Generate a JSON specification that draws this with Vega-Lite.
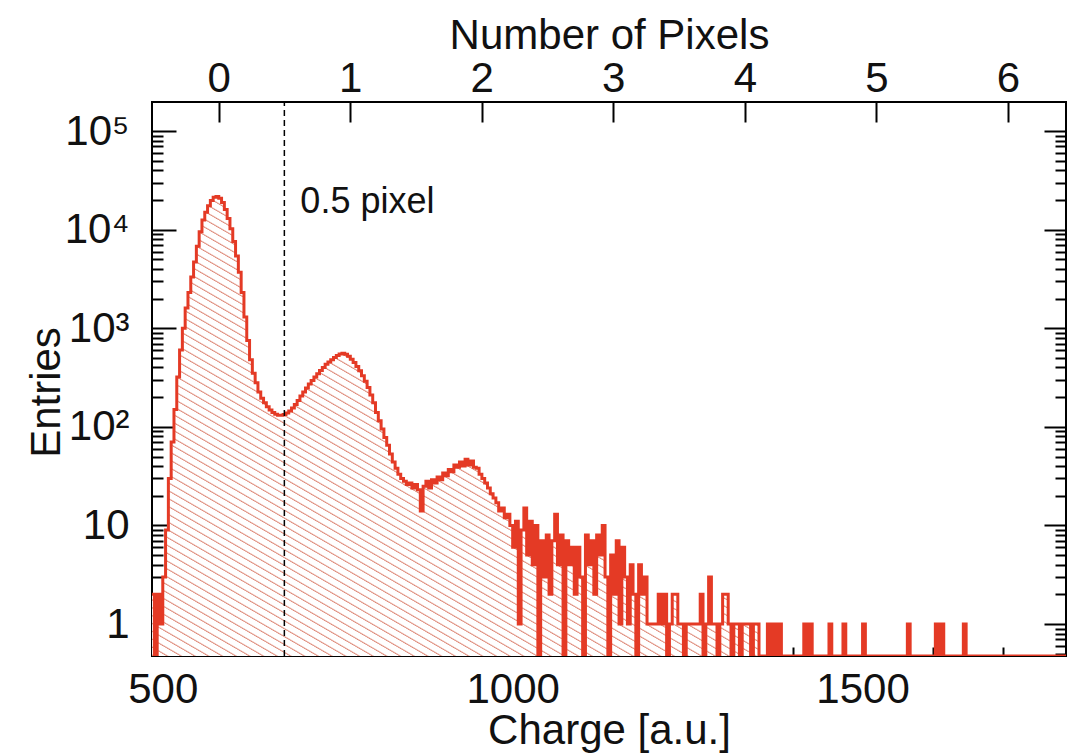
{
  "$schema": "https://vega.github.io/schema/vega-lite/v6.json",
  "width": 914,
  "height": 554,
  "autosize": {"type": "none"},
  "padding": {"left": 152, "top": 102, "right": 1, "bottom": 98},
  "background": "white",
  "config": {
    "view": {"stroke": "#000", "strokeWidth": 2},
    "font": "Liberation Sans",
    "axis": {
      "labelFont": "Liberation Sans", "titleFont": "Liberation Sans",
      "labelColor": "#111", "titleColor": "#111", "tickColor": "#000", "tickWidth": 2,
      "domain": false, "grid": false, "labelFontSize": 42, "titleFontSize": 42, "titleFontWeight": "normal"
    }
  },
  "datasets": {
    "hist": [
      {"c":484,"n":2},{"c":488,"n":0},{"c":492,"n":2},{"c":496,"n":1},{"c":500,"n":3},{"c":504,"n":9},{"c":508,"n":30},{"c":512,"n":70},
      {"c":516,"n":150},{"c":520,"n":320},{"c":524,"n":600},{"c":528,"n":1000},{"c":532,"n":1600},{"c":536,"n":2300},{"c":540,"n":3300},{"c":544,"n":4700},
      {"c":548,"n":6800},{"c":552,"n":9500},{"c":556,"n":12500},{"c":560,"n":15000},{"c":564,"n":17500},{"c":568,"n":19800},{"c":572,"n":21300},{"c":576,"n":21700},
      {"c":580,"n":20800},{"c":584,"n":18800},{"c":588,"n":16000},{"c":592,"n":13000},{"c":596,"n":10200},{"c":600,"n":7600},{"c":604,"n":5400},{"c":608,"n":3700},
      {"c":612,"n":2300},{"c":616,"n":1300},{"c":620,"n":750},{"c":624,"n":480},{"c":628,"n":350},{"c":632,"n":280},{"c":636,"n":225},{"c":640,"n":195},
      {"c":644,"n":175},{"c":648,"n":160},{"c":652,"n":148},{"c":656,"n":140},{"c":660,"n":134},{"c":664,"n":131},{"c":668,"n":131},{"c":672,"n":133},
      {"c":676,"n":138},{"c":680,"n":145},{"c":684,"n":155},{"c":688,"n":168},{"c":692,"n":185},{"c":696,"n":205},{"c":700,"n":225},{"c":704,"n":248},
      {"c":708,"n":272},{"c":712,"n":295},{"c":716,"n":320},{"c":720,"n":345},{"c":724,"n":372},{"c":728,"n":400},{"c":732,"n":430},{"c":736,"n":455},
      {"c":740,"n":480},{"c":744,"n":505},{"c":748,"n":530},{"c":752,"n":548},{"c":756,"n":557},{"c":760,"n":545},{"c":764,"n":520},{"c":768,"n":485},
      {"c":772,"n":450},{"c":776,"n":410},{"c":780,"n":370},{"c":784,"n":330},{"c":788,"n":290},{"c":792,"n":250},{"c":796,"n":210},{"c":800,"n":175},
      {"c":804,"n":140},{"c":808,"n":115},{"c":812,"n":95},{"c":816,"n":78},{"c":820,"n":65},{"c":824,"n":53},{"c":828,"n":44},{"c":832,"n":38},
      {"c":836,"n":33},{"c":840,"n":30},{"c":844,"n":28},{"c":848,"n":26},{"c":852,"n":27},{"c":856,"n":24},{"c":860,"n":26},{"c":864,"n":23},
      {"c":868,"n":14},{"c":872,"n":25},{"c":876,"n":28},{"c":880,"n":24},{"c":884,"n":29},{"c":888,"n":27},{"c":892,"n":31},{"c":896,"n":29},
      {"c":900,"n":34},{"c":904,"n":32},{"c":908,"n":37},{"c":912,"n":35},{"c":916,"n":41},{"c":920,"n":39},{"c":924,"n":44},{"c":928,"n":40},
      {"c":932,"n":47},{"c":936,"n":41},{"c":940,"n":45},{"c":944,"n":39},{"c":948,"n":38},{"c":952,"n":33},{"c":956,"n":30},{"c":960,"n":27},
      {"c":964,"n":24},{"c":968,"n":21},{"c":972,"n":19},{"c":976,"n":17},{"c":980,"n":14},{"c":984,"n":15},{"c":988,"n":12},{"c":992,"n":13},
      {"c":996,"n":10},{"c":1000,"n":6},{"c":1004,"n":11},{"c":1008,"n":1},{"c":1012,"n":9},{"c":1016,"n":15},{"c":1020,"n":5},{"c":1024,"n":11},
      {"c":1028,"n":4},{"c":1032,"n":10},{"c":1036,"n":0},{"c":1040,"n":7},{"c":1044,"n":3},{"c":1048,"n":8},{"c":1052,"n":2},{"c":1056,"n":7},
      {"c":1060,"n":13},{"c":1064,"n":4},{"c":1068,"n":8},{"c":1072,"n":0},{"c":1076,"n":7},{"c":1080,"n":4},{"c":1084,"n":6},{"c":1088,"n":2},
      {"c":1092,"n":6},{"c":1096,"n":3},{"c":1100,"n":0},{"c":1104,"n":8},{"c":1108,"n":4},{"c":1112,"n":7},{"c":1116,"n":2},{"c":1120,"n":8},
      {"c":1124,"n":5},{"c":1128,"n":10},{"c":1132,"n":3},{"c":1136,"n":0},{"c":1140,"n":5},{"c":1144,"n":2},{"c":1148,"n":7},{"c":1152,"n":1},
      {"c":1156,"n":6},{"c":1160,"n":3},{"c":1164,"n":1},{"c":1168,"n":4},{"c":1172,"n":2},{"c":1176,"n":0},{"c":1180,"n":4},{"c":1184,"n":2},
      {"c":1188,"n":3},{"c":1192,"n":1},{"c":1196,"n":1},{"c":1200,"n":1},{"c":1204,"n":1},{"c":1208,"n":2},{"c":1212,"n":1},{"c":1216,"n":2},
      {"c":1220,"n":0},{"c":1224,"n":1},{"c":1228,"n":2},{"c":1232,"n":2},{"c":1236,"n":1},{"c":1240,"n":1},{"c":1244,"n":0},{"c":1248,"n":1},
      {"c":1252,"n":1},{"c":1256,"n":1},{"c":1260,"n":1},{"c":1264,"n":1},{"c":1268,"n":2},{"c":1272,"n":0},{"c":1276,"n":1},{"c":1280,"n":3},
      {"c":1284,"n":1},{"c":1288,"n":1},{"c":1292,"n":0},{"c":1296,"n":1},{"c":1300,"n":2},{"c":1304,"n":2},{"c":1308,"n":1},{"c":1312,"n":0},
      {"c":1316,"n":1},{"c":1320,"n":1},{"c":1324,"n":0},{"c":1328,"n":1},{"c":1332,"n":1},{"c":1336,"n":1},{"c":1340,"n":0},{"c":1344,"n":1},
      {"c":1348,"n":1},{"c":1352,"n":0},{"c":1364,"n":1},{"c":1368,"n":0},{"c":1372,"n":1},{"c":1376,"n":0},{"c":1380,"n":1},{"c":1384,"n":0},
      {"c":1416,"n":1},{"c":1420,"n":0},{"c":1424,"n":1},{"c":1428,"n":0},{"c":1452,"n":1},{"c":1456,"n":0},{"c":1472,"n":1},{"c":1476,"n":0},
      {"c":1500,"n":1},{"c":1504,"n":0},{"c":1564,"n":1},{"c":1568,"n":0},{"c":1604,"n":1},{"c":1608,"n":0},{"c":1612,"n":1},{"c":1616,"n":0},
      {"c":1644,"n":1},{"c":1648,"n":0},{"c":1792,"n":0}
    ],
    "marker": [{"pix": 0.5, "label": "0.5 pixel"}]
  },
  "resolve": {"scale": {"x": "independent"}, "axis": {"x": "independent", "y": "independent"}},
  "layer": [
    {
      "data": {"name": "hist"},
      "mark": {"type": "area", "interpolate": "step-after", "clip": true, "invalid": "show",
        "fill": {"gradient": "linear", "x1": 1, "y1": 0, "x2": -0.064, "y2": 0.926, "stops": [
{"offset":0,"color":"#fff"},{"offset":0.0056,"color":"#fff"},{"offset":0.0072,"color":"#d87"},
{"offset":0.008,"color":"#fff"},{"offset":0.0136,"color":"#fff"},{"offset":0.0152,"color":"#d87"},
{"offset":0.016,"color":"#fff"},{"offset":0.0216,"color":"#fff"},{"offset":0.0232,"color":"#d87"},
{"offset":0.024,"color":"#fff"},{"offset":0.0296,"color":"#fff"},{"offset":0.0312,"color":"#d87"},
{"offset":0.032,"color":"#fff"},{"offset":0.0376,"color":"#fff"},{"offset":0.0392,"color":"#d87"},
{"offset":0.040,"color":"#fff"},{"offset":0.0456,"color":"#fff"},{"offset":0.0472,"color":"#d87"},
{"offset":0.048,"color":"#fff"},{"offset":0.0536,"color":"#fff"},{"offset":0.0552,"color":"#d87"},
{"offset":0.056,"color":"#fff"},{"offset":0.0616,"color":"#fff"},{"offset":0.0632,"color":"#d87"},
{"offset":0.064,"color":"#fff"},{"offset":0.0696,"color":"#fff"},{"offset":0.0712,"color":"#d87"},
{"offset":0.072,"color":"#fff"},{"offset":0.0776,"color":"#fff"},{"offset":0.0792,"color":"#d87"},
{"offset":0.080,"color":"#fff"},{"offset":0.0856,"color":"#fff"},{"offset":0.0872,"color":"#d87"},
{"offset":0.088,"color":"#fff"},{"offset":0.0936,"color":"#fff"},{"offset":0.0952,"color":"#d87"},
{"offset":0.096,"color":"#fff"},{"offset":0.1016,"color":"#fff"},{"offset":0.1032,"color":"#d87"},
{"offset":0.104,"color":"#fff"},{"offset":0.1096,"color":"#fff"},{"offset":0.1112,"color":"#d87"},
{"offset":0.112,"color":"#fff"},{"offset":0.1176,"color":"#fff"},{"offset":0.1192,"color":"#d87"},
{"offset":0.120,"color":"#fff"},{"offset":0.1256,"color":"#fff"},{"offset":0.1272,"color":"#d87"},
{"offset":0.128,"color":"#fff"},{"offset":0.1336,"color":"#fff"},{"offset":0.1352,"color":"#d87"},
{"offset":0.136,"color":"#fff"},{"offset":0.1416,"color":"#fff"},{"offset":0.1432,"color":"#d87"},
{"offset":0.144,"color":"#fff"},{"offset":0.1496,"color":"#fff"},{"offset":0.1512,"color":"#d87"},
{"offset":0.152,"color":"#fff"},{"offset":0.1576,"color":"#fff"},{"offset":0.1592,"color":"#d87"},
{"offset":0.160,"color":"#fff"},{"offset":0.1656,"color":"#fff"},{"offset":0.1672,"color":"#d87"},
{"offset":0.168,"color":"#fff"},{"offset":0.1736,"color":"#fff"},{"offset":0.1752,"color":"#d87"},
{"offset":0.176,"color":"#fff"},{"offset":0.1816,"color":"#fff"},{"offset":0.1832,"color":"#d87"},
{"offset":0.184,"color":"#fff"},{"offset":0.1896,"color":"#fff"},{"offset":0.1912,"color":"#d87"},
{"offset":0.192,"color":"#fff"},{"offset":0.1976,"color":"#fff"},{"offset":0.1992,"color":"#d87"},
{"offset":0.200,"color":"#fff"},{"offset":0.2056,"color":"#fff"},{"offset":0.2072,"color":"#d87"},
{"offset":0.208,"color":"#fff"},{"offset":0.2136,"color":"#fff"},{"offset":0.2152,"color":"#d87"},
{"offset":0.216,"color":"#fff"},{"offset":0.2216,"color":"#fff"},{"offset":0.2232,"color":"#d87"},
{"offset":0.224,"color":"#fff"},{"offset":0.2296,"color":"#fff"},{"offset":0.2312,"color":"#d87"},
{"offset":0.232,"color":"#fff"},{"offset":0.2376,"color":"#fff"},{"offset":0.2392,"color":"#d87"},
{"offset":0.240,"color":"#fff"},{"offset":0.2456,"color":"#fff"},{"offset":0.2472,"color":"#d87"},
{"offset":0.248,"color":"#fff"},{"offset":0.2536,"color":"#fff"},{"offset":0.2552,"color":"#d87"},
{"offset":0.256,"color":"#fff"},{"offset":0.2616,"color":"#fff"},{"offset":0.2632,"color":"#d87"},
{"offset":0.264,"color":"#fff"},{"offset":0.2696,"color":"#fff"},{"offset":0.2712,"color":"#d87"},
{"offset":0.272,"color":"#fff"},{"offset":0.2776,"color":"#fff"},{"offset":0.2792,"color":"#d87"},
{"offset":0.280,"color":"#fff"},{"offset":0.2856,"color":"#fff"},{"offset":0.2872,"color":"#d87"},
{"offset":0.288,"color":"#fff"},{"offset":0.2936,"color":"#fff"},{"offset":0.2952,"color":"#d87"},
{"offset":0.296,"color":"#fff"},{"offset":0.3016,"color":"#fff"},{"offset":0.3032,"color":"#d87"},
{"offset":0.304,"color":"#fff"},{"offset":0.3096,"color":"#fff"},{"offset":0.3112,"color":"#d87"},
{"offset":0.312,"color":"#fff"},{"offset":0.3176,"color":"#fff"},{"offset":0.3192,"color":"#d87"},
{"offset":0.320,"color":"#fff"},{"offset":0.3256,"color":"#fff"},{"offset":0.3272,"color":"#d87"},
{"offset":0.328,"color":"#fff"},{"offset":0.3336,"color":"#fff"},{"offset":0.3352,"color":"#d87"},
{"offset":0.336,"color":"#fff"},{"offset":0.3416,"color":"#fff"},{"offset":0.3432,"color":"#d87"},
{"offset":0.344,"color":"#fff"},{"offset":0.3496,"color":"#fff"},{"offset":0.3512,"color":"#d87"},
{"offset":0.352,"color":"#fff"},{"offset":0.3576,"color":"#fff"},{"offset":0.3592,"color":"#d87"},
{"offset":0.360,"color":"#fff"},{"offset":0.3656,"color":"#fff"},{"offset":0.3672,"color":"#d87"},
{"offset":0.368,"color":"#fff"},{"offset":0.3736,"color":"#fff"},{"offset":0.3752,"color":"#d87"},
{"offset":0.376,"color":"#fff"},{"offset":0.3816,"color":"#fff"},{"offset":0.3832,"color":"#d87"},
{"offset":0.384,"color":"#fff"},{"offset":0.3896,"color":"#fff"},{"offset":0.3912,"color":"#d87"},
{"offset":0.392,"color":"#fff"},{"offset":0.3976,"color":"#fff"},{"offset":0.3992,"color":"#d87"},
{"offset":0.400,"color":"#fff"},{"offset":0.4056,"color":"#fff"},{"offset":0.4072,"color":"#d87"},
{"offset":0.408,"color":"#fff"},{"offset":0.4136,"color":"#fff"},{"offset":0.4152,"color":"#d87"},
{"offset":0.416,"color":"#fff"},{"offset":0.4216,"color":"#fff"},{"offset":0.4232,"color":"#d87"},
{"offset":0.424,"color":"#fff"},{"offset":0.4296,"color":"#fff"},{"offset":0.4312,"color":"#d87"},
{"offset":0.432,"color":"#fff"},{"offset":0.4376,"color":"#fff"},{"offset":0.4392,"color":"#d87"},
{"offset":0.440,"color":"#fff"},{"offset":0.4456,"color":"#fff"},{"offset":0.4472,"color":"#d87"},
{"offset":0.448,"color":"#fff"},{"offset":0.4536,"color":"#fff"},{"offset":0.4552,"color":"#d87"},
{"offset":0.456,"color":"#fff"},{"offset":0.4616,"color":"#fff"},{"offset":0.4632,"color":"#d87"},
{"offset":0.464,"color":"#fff"},{"offset":0.4696,"color":"#fff"},{"offset":0.4712,"color":"#d87"},
{"offset":0.472,"color":"#fff"},{"offset":0.4776,"color":"#fff"},{"offset":0.4792,"color":"#d87"},
{"offset":0.480,"color":"#fff"},{"offset":0.4856,"color":"#fff"},{"offset":0.4872,"color":"#d87"},
{"offset":0.488,"color":"#fff"},{"offset":0.4936,"color":"#fff"},{"offset":0.4952,"color":"#d87"},
{"offset":0.496,"color":"#fff"},{"offset":0.5016,"color":"#fff"},{"offset":0.5032,"color":"#d87"},
{"offset":0.504,"color":"#fff"},{"offset":0.5096,"color":"#fff"},{"offset":0.5112,"color":"#d87"},
{"offset":0.512,"color":"#fff"},{"offset":0.5176,"color":"#fff"},{"offset":0.5192,"color":"#d87"},
{"offset":0.520,"color":"#fff"},{"offset":0.5256,"color":"#fff"},{"offset":0.5272,"color":"#d87"},
{"offset":0.528,"color":"#fff"},{"offset":0.5336,"color":"#fff"},{"offset":0.5352,"color":"#d87"},
{"offset":0.536,"color":"#fff"},{"offset":0.5416,"color":"#fff"},{"offset":0.5432,"color":"#d87"},
{"offset":0.544,"color":"#fff"},{"offset":0.5496,"color":"#fff"},{"offset":0.5512,"color":"#d87"},
{"offset":0.552,"color":"#fff"},{"offset":0.5576,"color":"#fff"},{"offset":0.5592,"color":"#d87"},
{"offset":0.560,"color":"#fff"},{"offset":0.5656,"color":"#fff"},{"offset":0.5672,"color":"#d87"},
{"offset":0.568,"color":"#fff"},{"offset":0.5736,"color":"#fff"},{"offset":0.5752,"color":"#d87"},
{"offset":0.576,"color":"#fff"},{"offset":0.5816,"color":"#fff"},{"offset":0.5832,"color":"#d87"},
{"offset":0.584,"color":"#fff"},{"offset":0.5896,"color":"#fff"},{"offset":0.5912,"color":"#d87"},
{"offset":0.592,"color":"#fff"},{"offset":0.5976,"color":"#fff"},{"offset":0.5992,"color":"#d87"},
{"offset":0.600,"color":"#fff"},{"offset":0.6056,"color":"#fff"},{"offset":0.6072,"color":"#d87"},
{"offset":0.608,"color":"#fff"},{"offset":0.6136,"color":"#fff"},{"offset":0.6152,"color":"#d87"},
{"offset":0.616,"color":"#fff"},{"offset":0.6216,"color":"#fff"},{"offset":0.6232,"color":"#d87"},
{"offset":0.624,"color":"#fff"},{"offset":0.6296,"color":"#fff"},{"offset":0.6312,"color":"#d87"},
{"offset":0.632,"color":"#fff"},{"offset":0.6376,"color":"#fff"},{"offset":0.6392,"color":"#d87"},
{"offset":0.640,"color":"#fff"},{"offset":0.6456,"color":"#fff"},{"offset":0.6472,"color":"#d87"},
{"offset":0.648,"color":"#fff"},{"offset":0.6536,"color":"#fff"},{"offset":0.6552,"color":"#d87"},
{"offset":0.656,"color":"#fff"},{"offset":0.6616,"color":"#fff"},{"offset":0.6632,"color":"#d87"},
{"offset":0.664,"color":"#fff"},{"offset":0.6696,"color":"#fff"},{"offset":0.6712,"color":"#d87"},
{"offset":0.672,"color":"#fff"},{"offset":0.6776,"color":"#fff"},{"offset":0.6792,"color":"#d87"},
{"offset":0.680,"color":"#fff"},{"offset":0.6856,"color":"#fff"},{"offset":0.6872,"color":"#d87"},
{"offset":0.688,"color":"#fff"},{"offset":0.6936,"color":"#fff"},{"offset":0.6952,"color":"#d87"},
{"offset":0.696,"color":"#fff"},{"offset":0.7016,"color":"#fff"},{"offset":0.7032,"color":"#d87"},
{"offset":0.704,"color":"#fff"},{"offset":0.7096,"color":"#fff"},{"offset":0.7112,"color":"#d87"},
{"offset":0.712,"color":"#fff"},{"offset":0.7176,"color":"#fff"},{"offset":0.7192,"color":"#d87"},
{"offset":0.720,"color":"#fff"},{"offset":0.7256,"color":"#fff"},{"offset":0.7272,"color":"#d87"},
{"offset":0.728,"color":"#fff"},{"offset":0.7336,"color":"#fff"},{"offset":0.7352,"color":"#d87"},
{"offset":0.736,"color":"#fff"},{"offset":0.7416,"color":"#fff"},{"offset":0.7432,"color":"#d87"},
{"offset":0.744,"color":"#fff"},{"offset":0.7496,"color":"#fff"},{"offset":0.7512,"color":"#d87"},
{"offset":0.752,"color":"#fff"},{"offset":0.7576,"color":"#fff"},{"offset":0.7592,"color":"#d87"},
{"offset":0.760,"color":"#fff"},{"offset":0.7656,"color":"#fff"},{"offset":0.7672,"color":"#d87"},
{"offset":0.768,"color":"#fff"},{"offset":0.7736,"color":"#fff"},{"offset":0.7752,"color":"#d87"},
{"offset":0.776,"color":"#fff"},{"offset":0.7816,"color":"#fff"},{"offset":0.7832,"color":"#d87"},
{"offset":0.784,"color":"#fff"},{"offset":0.7896,"color":"#fff"},{"offset":0.7912,"color":"#d87"},
{"offset":0.792,"color":"#fff"},{"offset":0.7976,"color":"#fff"},{"offset":0.7992,"color":"#d87"},
{"offset":0.800,"color":"#fff"},{"offset":0.8056,"color":"#fff"},{"offset":0.8072,"color":"#d87"},
{"offset":0.808,"color":"#fff"},{"offset":0.8136,"color":"#fff"},{"offset":0.8152,"color":"#d87"},
{"offset":0.816,"color":"#fff"},{"offset":0.8216,"color":"#fff"},{"offset":0.8232,"color":"#d87"},
{"offset":0.824,"color":"#fff"},{"offset":0.8296,"color":"#fff"},{"offset":0.8312,"color":"#d87"},
{"offset":0.832,"color":"#fff"},{"offset":0.8376,"color":"#fff"},{"offset":0.8392,"color":"#d87"},
{"offset":0.840,"color":"#fff"},{"offset":0.8456,"color":"#fff"},{"offset":0.8472,"color":"#d87"},
{"offset":0.848,"color":"#fff"},{"offset":0.8536,"color":"#fff"},{"offset":0.8552,"color":"#d87"},
{"offset":0.856,"color":"#fff"},{"offset":0.8616,"color":"#fff"},{"offset":0.8632,"color":"#d87"},
{"offset":0.864,"color":"#fff"},{"offset":0.8696,"color":"#fff"},{"offset":0.8712,"color":"#d87"},
{"offset":0.872,"color":"#fff"},{"offset":0.8776,"color":"#fff"},{"offset":0.8792,"color":"#d87"},
{"offset":0.880,"color":"#fff"},{"offset":0.8856,"color":"#fff"},{"offset":0.8872,"color":"#d87"},
{"offset":0.888,"color":"#fff"},{"offset":0.8936,"color":"#fff"},{"offset":0.8952,"color":"#d87"},
{"offset":0.896,"color":"#fff"},{"offset":0.9016,"color":"#fff"},{"offset":0.9032,"color":"#d87"},
{"offset":0.904,"color":"#fff"},{"offset":0.9096,"color":"#fff"},{"offset":0.9112,"color":"#d87"},
{"offset":0.912,"color":"#fff"},{"offset":0.9176,"color":"#fff"},{"offset":0.9192,"color":"#d87"},
{"offset":0.920,"color":"#fff"},{"offset":0.9256,"color":"#fff"},{"offset":0.9272,"color":"#d87"},
{"offset":0.928,"color":"#fff"},{"offset":0.9336,"color":"#fff"},{"offset":0.9352,"color":"#d87"},
{"offset":0.936,"color":"#fff"},{"offset":0.9416,"color":"#fff"},{"offset":0.9432,"color":"#d87"},
{"offset":0.944,"color":"#fff"},{"offset":0.9496,"color":"#fff"},{"offset":0.9512,"color":"#d87"},
{"offset":0.952,"color":"#fff"},{"offset":0.9576,"color":"#fff"},{"offset":0.9592,"color":"#d87"},
{"offset":0.960,"color":"#fff"},{"offset":0.9656,"color":"#fff"},{"offset":0.9672,"color":"#d87"},
{"offset":0.968,"color":"#fff"},{"offset":0.9736,"color":"#fff"},{"offset":0.9752,"color":"#d87"},
{"offset":0.976,"color":"#fff"},{"offset":0.9816,"color":"#fff"},{"offset":0.9832,"color":"#d87"},
{"offset":0.984,"color":"#fff"},{"offset":0.9896,"color":"#fff"},{"offset":0.9912,"color":"#d87"},
{"offset":0.992,"color":"#fff"},{"offset":0.9976,"color":"#fff"},{"offset":0.9992,"color":"#d87"},
{"offset":1,"color":"#fff"}
        ]}},
      "encoding": {
        "x": {"field": "c", "type": "quantitative",
          "scale": {"domain": [484.6, 1790.7], "nice": false, "zero": false},
          "axis": {"orient": "bottom", "values": [500, 1000, 1500], "format": "d", "tickSize": -20, "labelPadding": 33, "title": "Charge [a.u.]", "titlePadding": 0}},
        "y": {"field": "n", "type": "quantitative",
          "scale": {"type": "log", "domain": [0.474, 197000], "nice": false, "clamp": true},
          "axis": {"orient": "left", "values": [1, 10, 100, 1000, 10000, 100000], "tickSize": -24, "labelPadding": 47,
            "labelExpr": "datum.value < 5 ? '1' : datum.value < 50 ? '10' : datum.value < 500 ? '10²' : datum.value < 5000 ? '10³' : datum.value < 50000 ? '10⁴' : '10⁵'",
            "title": "Entries", "titleX": -106, "titleY": 290, "titleBaseline": "middle", "titleAngle": -90}},
        "y2": {"datum": 0.474}
      }
    },
    {
      "data": {"name": "hist"},
      "mark": {"type": "line", "interpolate": "step-after", "color": "#e43a25", "strokeWidth": 3, "clip": true, "invalid": "show"},
      "encoding": {
        "x": {"field": "c", "type": "quantitative",
          "scale": {"domain": [484.6, 1790.7], "nice": false, "zero": false},
          "axis": {"orient": "bottom", "values": [600, 700, 800, 900, 1100, 1200, 1300, 1400, 1600, 1700], "tickSize": -9, "labels": false, "title": null}},
        "y": {"field": "n", "type": "quantitative",
          "scale": {"type": "log", "domain": [0.474, 197000], "nice": false, "clamp": true},
          "axis": {"orient": "left", "values": [0.5, 0.6, 0.7, 0.8, 0.9, 2, 3, 4, 5, 6, 7, 8, 9, 20, 30, 40, 50, 60, 70, 80, 90, 200, 300, 400, 500, 600, 700, 800, 900, 2000, 3000, 4000, 5000, 6000, 7000, 8000, 9000, 20000, 30000, 40000, 50000, 60000, 70000, 80000, 90000], "tickSize": -11, "labels": false, "title": null}}
      }
    },
    {
      "data": {"name": "marker"},
      "mark": {"type": "text", "align": "left", "baseline": "alphabetic", "dx": 16, "fontSize": 36, "font": "Liberation Sans", "color": "#111"},
      "encoding": {
        "x": {"field": "pix", "type": "quantitative", "scale": {"domain": [-0.506, 6.441], "nice": false, "zero": false}, "axis": null},
        "y": {"datum": 14600, "type": "quantitative",
          "scale": {"type": "log", "domain": [0.474, 197000], "nice": false, "clamp": true},
          "axis": {"orient": "right", "values": [1, 10, 100, 1000, 10000, 100000], "tickSize": -22, "labels": false, "title": null}},
        "text": {"field": "label"}
      }
    },
    {
      "data": {"name": "marker"},
      "mark": {"type": "rule", "color": "#000", "strokeWidth": 1.5, "strokeDash": [6, 4]},
      "encoding": {
        "x": {"field": "pix", "type": "quantitative", "scale": {"domain": [-0.506, 6.441], "nice": false, "zero": false},
          "axis": {"orient": "top", "values": [0, 1, 2, 3, 4, 5, 6], "format": "d", "tickSize": -20, "labelPadding": 22, "title": "Number of Pixels", "titlePadding": 0}},
        "y": {"datum": 0.474, "type": "quantitative",
          "scale": {"type": "log", "domain": [0.474, 197000], "nice": false, "clamp": true},
          "axis": {"orient": "right", "values": [0.5, 0.6, 0.7, 0.8, 0.9, 2, 3, 4, 5, 6, 7, 8, 9, 20, 30, 40, 50, 60, 70, 80, 90, 200, 300, 400, 500, 600, 700, 800, 900, 2000, 3000, 4000, 5000, 6000, 7000, 8000, 9000, 20000, 30000, 40000, 50000, 60000, 70000, 80000, 90000], "tickSize": -11, "labels": false, "title": null}},
        "y2": {"datum": 197000}
      }
    }
  ]
}
